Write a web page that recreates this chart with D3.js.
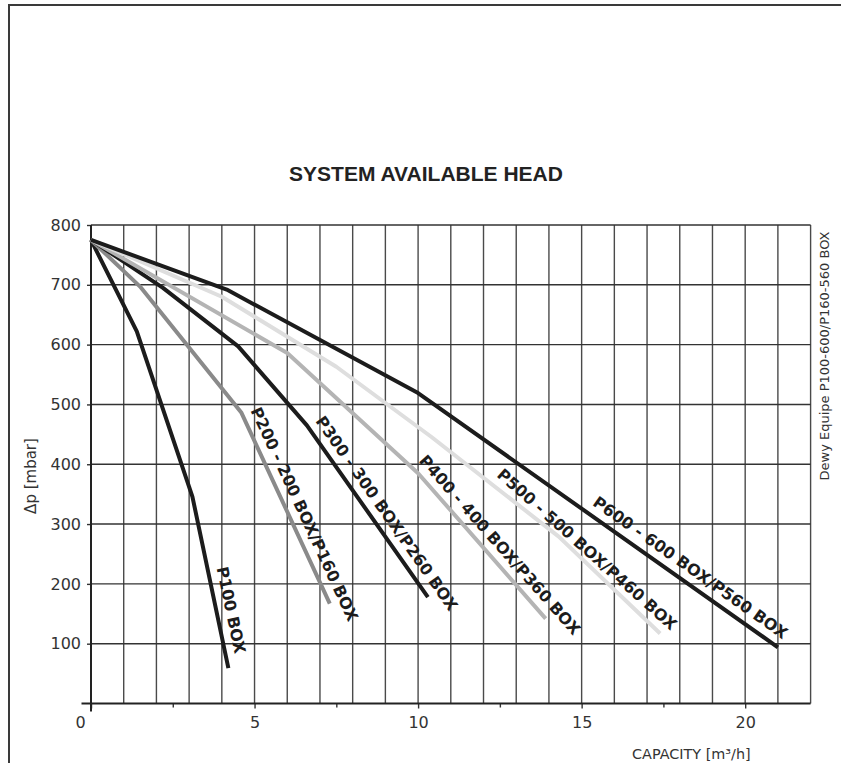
<!DOCTYPE html>
<html>
<head>
<meta charset="utf-8">
<script src="https://cdn.jsdelivr.net/npm/d3@7"></script>
<style>
  html, body { margin: 0; padding: 0; background: #fff; }
  svg { display: block; }
</style>
</head>
<body>
<svg id="chart" width="841" height="763"></svg>
<script>
// System available head: pressure (mbar) against capacity (m³/h) for each pump model
const seriesNames = [
  "P100 BOX",
  "P200 - 200 BOX/P160 BOX",
  "P300 - 300 BOX/P260 BOX",
  "P400 - 400 BOX/P360 BOX",
  "P500 - 500 BOX/P460 BOX",
  "P600 - 600 BOX/P560 BOX"
];
const p100Capacity = [0, 1.4, 3.1, 4.2];
const p100Head     = [775, 622, 346, 59];
const p200Capacity = [0, 1.5, 4.6, 7.3];
const p200Head     = [775, 697, 486, 167];
const p300Capacity = [0, 2.2, 4.5, 6.6, 10.3];
const p300Head     = [775, 695, 597, 465, 178];
const p400Capacity = [0, 6.0, 10.0, 13.9];
const p400Head     = [775, 586, 385, 142];
const p500Capacity = [0, 4.0, 7.5, 10.4, 14.3, 17.4];
const p500Head     = [775, 680, 563, 446, 279, 117];
const p600Capacity = [0, 4.15, 10.0, 21.0];
const p600Head     = [775, 692, 519, 94];

const xTickLabels = [0, 5, 10, 15, 20];
const xMinorTicks = [2.5, 7.5, 12.5, 17.5];
const yTickLabels = [100, 200, 300, 400, 500, 600, 700, 800];

// Drawing settings
const seriesColors = ["#1c1c1c", "#8a8a8a", "#1c1c1c", "#b4b4b4", "#dedede", "#1c1c1c"];
const labelStartX  = [3.57, 4.62, 6.62, 9.8, 12.2, 15.15];

const capacities = [p100Capacity, p200Capacity, p300Capacity, p400Capacity, p500Capacity, p600Capacity];
const heads      = [p100Head, p200Head, p300Head, p400Head, p500Head, p600Head];
const series = seriesNames.map((name, i) => ({
  name,
  color: seriesColors[i],
  labelX: labelStartX[i],
  points: capacities[i].map((c, j) => [c, heads[i][j]])
}));

const svg = d3.select("#chart");
const x = d3.scaleLinear().domain([0, 22]).range([91, 810.6]);
const y = d3.scaleLinear().domain([0, 800]).range([703.5, 225]);

// Outer frame
svg.append("rect")
  .attr("x", 9).attr("y", 5).attr("width", 900).attr("height", 900)
  .attr("fill", "none").attr("stroke", "#3a3a3a").attr("stroke-width", 2);

// Title
svg.append("text")
  .attr("x", 426).attr("y", 181)
  .attr("text-anchor", "middle")
  .attr("font-family", "'Liberation Sans', Arial, sans-serif")
  .attr("font-weight", "bold").attr("font-size", 21)
  .attr("fill", "#222")
  .text("SYSTEM AVAILABLE HEAD");

// Grid
const grid = svg.append("g");
grid.selectAll("line.v")
  .data(x.ticks(22).filter(d => d > 0))
  .join("line").attr("class", "v")
  .attr("x1", d => x(d)).attr("x2", d => x(d))
  .attr("y1", y(800)).attr("y2", y(0))
  .attr("stroke", "#4a4a4a").attr("stroke-width", 1.4);
grid.selectAll("line.h")
  .data(yTickLabels)
  .join("line").attr("class", "h")
  .attr("x1", x(0)).attr("x2", x(22))
  .attr("y1", d => y(d)).attr("y2", d => y(d))
  .attr("stroke", "#333").attr("stroke-width", 1.4);

// Axes
const tickFont = "'DejaVu Sans', Verdana, sans-serif";
const yAxis = svg.append("g")
  .attr("transform", `translate(${x(0)},0)`)
  .call(d3.axisLeft(y).tickValues(yTickLabels).tickSize(4).tickPadding(6));
const xAxis = svg.append("g")
  .attr("transform", `translate(0,${y(0)})`)
  .call(d3.axisBottom(x).tickValues(xTickLabels).tickSize(5).tickPadding(8));
const xMinor = svg.append("g")
  .attr("transform", `translate(0,${y(0)})`)
  .call(d3.axisBottom(x).tickValues(xMinorTicks).tickSize(4).tickFormat(""));
[yAxis, xAxis, xMinor].forEach(g => {
  g.select(".domain").remove();
  g.selectAll(".tick line").attr("stroke", "#333").attr("stroke-width", 1.4);
  g.selectAll(".tick text")
    .attr("font-family", tickFont).attr("font-size", 16).attr("fill", "#333");
});
xAxis.selectAll(".tick text").filter(d => d === 0).attr("dx", -11);

svg.append("line")
  .attr("x1", x(0) - 9.5).attr("x2", x(22))
  .attr("y1", y(0)).attr("y2", y(0))
  .attr("stroke", "#222").attr("stroke-width", 2);
svg.append("line")
  .attr("x1", x(0)).attr("x2", x(0))
  .attr("y1", y(800)).attr("y2", y(0) + 8)
  .attr("stroke", "#222").attr("stroke-width", 2);

// Axis titles
svg.append("text")
  .attr("transform", "translate(36,476) rotate(-90)")
  .attr("text-anchor", "middle")
  .attr("font-family", tickFont).attr("font-size", 15).attr("fill", "#333")
  .text("Δp [mbar]");
svg.append("text")
  .attr("x", 632).attr("y", 758.5)
  .attr("font-family", tickFont).attr("font-size", 14.4).attr("fill", "#333")
  .text("CAPACITY [m³/h]");
svg.append("text")
  .attr("transform", "translate(829,356) rotate(-90)")
  .attr("text-anchor", "middle")
  .attr("font-family", tickFont).attr("font-size", 13).attr("fill", "#333")
  .text("Dewy Equipe P100-600/P160-560 BOX");

// Curves
const line = d3.line().x(d => x(d[0])).y(d => y(d[1]));
svg.append("g").selectAll("path")
  .data(series)
  .join("path")
  .attr("d", d => line(d.points))
  .attr("fill", "none")
  .attr("stroke", d => d.color)
  .attr("stroke-width", 4)
  .attr("stroke-linejoin", "round");

// Curve labels, written along the last stretch of each curve
function headAt(points, c) {
  for (let i = 1; i < points.length; i++) {
    const [c0, h0] = points[i - 1], [c1, h1] = points[i];
    if (c <= c1) return h0 + (h1 - h0) * (c - c0) / (c1 - c0);
  }
  return points[points.length - 1][1];
}
svg.append("g").selectAll("text")
  .data(series)
  .join("text")
  .attr("transform", d => {
    const px = x(d.labelX), py = y(headAt(d.points, d.labelX));
    const end = d.points[d.points.length - 1];
    const ang = Math.atan2(y(end[1]) - py, x(end[0]) - px) * 180 / Math.PI;
    return `translate(${px},${py}) rotate(${ang})`;
  })
  .attr("y", -9)
  .attr("font-family", tickFont).attr("font-weight", "bold").attr("font-size", 16)
  .attr("fill", "#1c1c1c")
  .text(d => d.name);
</script>
</body>
</html>
